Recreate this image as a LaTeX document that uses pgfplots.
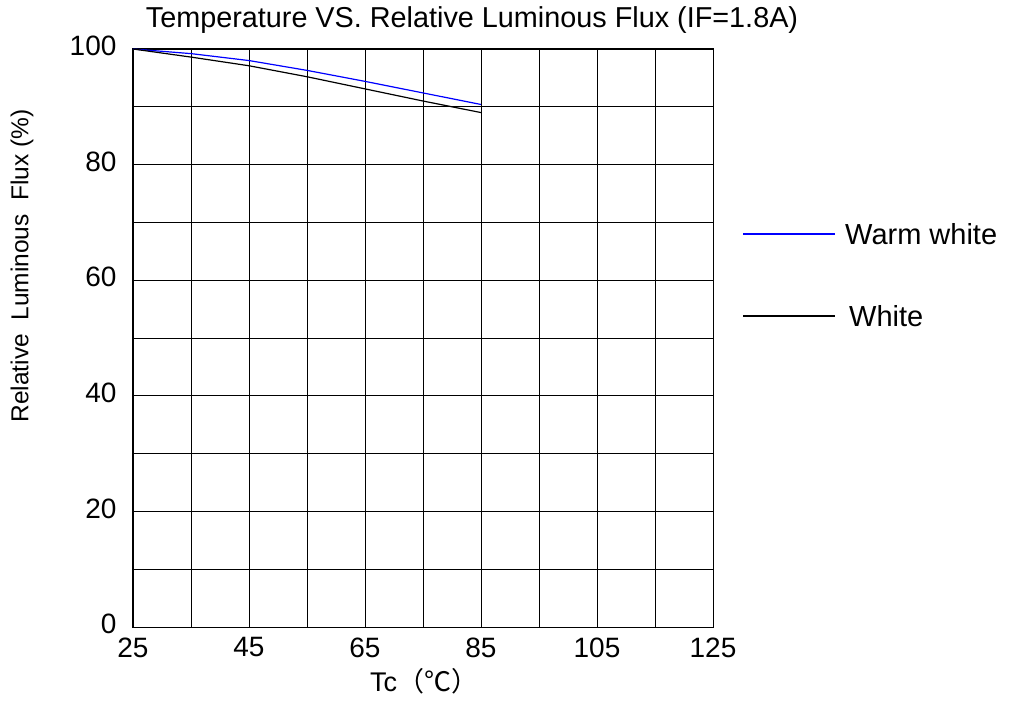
\documentclass[border=0pt]{standalone}
\usepackage{fontspec}
\setmainfont{Liberation Sans}
\newfontfamily\cjk{Noto Sans CJK SC}
\usepackage{pgfplots}
\pgfplotsset{compat=1.18}
\begin{document}
\begin{tikzpicture}[x=1pt,y=1pt]
\begin{axis}[
  at={(0pt,0pt)}, anchor=south west,
  scale only axis, width=580pt, height=578pt,
  xmin=25, xmax=125, ymin=0, ymax=100,
  xtick={25,45,...,125}, minor xtick={35,55,...,115},
  ytick={0,20,...,100}, minor ytick={10,30,...,90},
  grid=both,
  major grid style={black, line width=0.9pt},
  minor grid style={black, line width=0.9pt},
  axis line style={black, line width=1pt},
  tick style={draw=none},
  /pgf/number format/assume math mode=true,
  ticklabel style={font=\fontsize{28}{32}\selectfont},
  xticklabel style={yshift=-7pt},
  yticklabel style={xshift=-13pt, yshift=3pt},
  clip=false,
]
% Warm white
\addplot[blue, line width=1.2pt] coordinates {
  (25,100) (35,99.2) (45,98.0) (55,96.3) (65,94.4) (75,92.4) (85,90.4)
};
% White
\addplot[black, line width=1.2pt] coordinates {
  (25,100) (35,98.6) (45,97.1) (55,95.2) (65,93.1) (75,91.0) (85,89.0)
};
\end{axis}
% title and axis labels
\node[font=\fontsize{28.8}{32}\selectfont] at (339,607) {Temperature VS. Relative Luminous Flux (IF=1.8A)};
\node[rotate=90, font=\fontsize{24.5}{28}\selectfont] at (-111,361) {Relative\ \ Luminous\ \ Flux (\%)};
\node[font=\fontsize{27}{30}\selectfont] at (291,-54) {Tc{\cjk（℃）}};
% legend
\draw[blue, line width=1.2pt] (610,393) -- (702,393);
\node[anchor=west, font=\fontsize{29}{32}\selectfont, inner sep=0pt] at (712,393) {Warm white};
\draw[black, line width=1.2pt] (610,311) -- (702,311);
\node[anchor=west, font=\fontsize{29}{32}\selectfont, inner sep=0pt] at (716,311) {White};
\useasboundingbox (-133,-86) rectangle (880,627);
\end{tikzpicture}
\end{document}
